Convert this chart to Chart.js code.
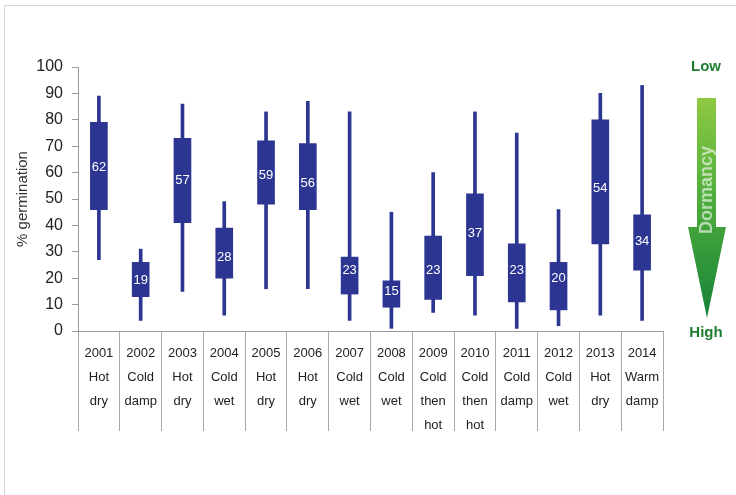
<!DOCTYPE html>
<html>
<head>
<meta charset="utf-8">
<script src="https://cdn.jsdelivr.net/npm/chart.js@4.4.1/dist/chart.umd.min.js"></script>
<style>
    html, body { margin: 0; padding: 0; background: #fff; }
    #wrap { position: relative; width: 736px; height: 495px; overflow: hidden; }
    #frame { position: absolute; left: 4px; top: 5px; width: 800px; height: 600px; border: 1px solid #d4d4d4; }
    #myChart { position: absolute; left: 0; top: 0; }
</style>
</head>
<body>
<div id="wrap">
    <div id="frame"></div>
    <canvas id="myChart" width="736" height="495"></canvas>
</div>
<script>
"use strict";

//DATI
const years = ["2001", "2002", "2003", "2004", "2005", "2006", "2007", "2008", "2009", "2010", "2011", "2012", "2013", "2014"];
const weather1 = ["Hot", "Cold", "Hot", "Cold", "Hot", "Hot", "Cold", "Cold", "Cold", "Cold", "Cold", "Cold", "Hot", "Warm"];
const weather2 = ["dry", "damp", "dry", "wet", "dry", "dry", "wet", "wet", "then", "then", "damp", "wet", "dry", "damp"];
const weather3 = ["", "", "", "", "", "", "", "", "hot", "hot", "", "", "", ""];
const minValues = [27, 4, 15, 6, 16, 16, 4, 1, 7, 6, 1, 2, 6, 4];
const boxLow = [46, 13, 41, 20, 48, 46, 14, 9, 12, 21, 11, 8, 33, 23];
const boxHigh = [79, 26, 73, 39, 72, 71, 28, 19, 36, 52, 33, 26, 80, 44];
const maxValues = [89, 31, 86, 49, 83, 87, 83, 45, 60, 83, 75, 46, 90, 93];
const medians = [62, 19, 57, 28, 59, 56, 23, 15, 23, 37, 23, 20, 54, 34];
const yTicks = [0, 10, 20, 30, 40, 50, 60, 70, 80, 90, 100];

const blue = "#2c3592";
const font = "'Liberation Sans', Arial, sans-serif";

let labels = [];
let boxes = [];
let whiskers = [];
for (let i = 0; i < years.length; i++) {
    let l = [years[i], weather1[i], weather2[i]];
    if (weather3[i] != "")
        l.push(weather3[i]);
    labels.push(l);
    boxes.push([boxLow[i], boxHigh[i]]);
    whiskers.push([minValues[i], maxValues[i]]);
}

//ETICHETTE MEDIANE
const medianLabels = {
    id: "medianLabels",
    afterDatasetsDraw(chart) {
        let ctx = chart.ctx;
        let meta = chart.getDatasetMeta(0);
        let y = chart.scales.y;
        ctx.save();
        ctx.fillStyle = "#fff";
        ctx.font = "13px " + font;
        ctx.textAlign = "center";
        ctx.textBaseline = "middle";
        for (let i = 0; i < medians.length; i++) {
            ctx.fillText(String(medians[i]), meta.data[i].x, y.getPixelForValue(medians[i]));
        }
        ctx.restore();
    }
};

//FRECCIA DORMANCY
const dormancyArrow = {
    id: "dormancyArrow",
    afterDraw(chart) {
        let ctx = chart.ctx;
        let cx = 706;
        ctx.save();
        let grad = ctx.createLinearGradient(0, 98, 0, 318);
        grad.addColorStop(0, "#8fc943");
        grad.addColorStop(0.45, "#4fae3c");
        grad.addColorStop(1, "#17823a");
        ctx.fillStyle = grad;
        ctx.beginPath();
        ctx.moveTo(697, 98);
        ctx.lineTo(716, 98);
        ctx.lineTo(716, 227);
        ctx.lineTo(726, 227);
        ctx.lineTo(cx + 1, 318);
        ctx.lineTo(688, 227);
        ctx.lineTo(697, 227);
        ctx.closePath();
        ctx.fill();

        ctx.translate(cx + 1, 190);
        ctx.rotate(-Math.PI / 2);
        ctx.fillStyle = "rgba(255,255,255,0.6)";
        ctx.font = "bold 18px " + font;
        ctx.textAlign = "center";
        ctx.textBaseline = "middle";
        ctx.fillText("Dormancy", 0, 0);
        ctx.restore();

        ctx.save();
        ctx.fillStyle = "#1f7d33";
        ctx.font = "bold 15px " + font;
        ctx.textAlign = "center";
        ctx.textBaseline = "middle";
        ctx.fillText("Low", cx, 67);
        ctx.fillText("High", cx, 333);
        ctx.restore();
    }
};

//GRAFICO
let myChart = new Chart(document.getElementById("myChart"), {
    type: "bar",
    data: {
        labels: labels,
        datasets: [
            {
                label: "box",
                data: boxes,
                backgroundColor: blue,
                barThickness: 17,
                grouped: false
            },
            {
                label: "range",
                data: whiskers,
                backgroundColor: blue,
                barThickness: 3,
                grouped: false
            }
        ]
    },
    options: {
        responsive: false,
        animation: false,
        layout: { padding: { left: 0, right: 73, top: 67, bottom: 0 } },
        plugins: {
            legend: { display: false },
            tooltip: { enabled: false }
        },
        scales: {
            x: {
                offset: true,
                afterFit: function (scale) { scale.height = 164; },
                border: { color: "#999" },
                grid: {
                    offset: true,
                    drawOnChartArea: false,
                    tickLength: 100,
                    color: "#aaa"
                },
                ticks: {
                    color: "#222",
                    padding: -90,
                    maxRotation: 0,
                    autoSkip: false,
                    font: { family: font, size: 13, lineHeight: "24px" }
                }
            },
            y: {
                min: 0,
                max: 100,
                afterFit: function (scale) { scale.width = 78; },
                afterBuildTicks: function (scale) {
                    scale.ticks = yTicks.map(function (v) { return { value: v }; });
                },
                border: { color: "#999" },
                grid: {
                    drawOnChartArea: false,
                    tickLength: 6,
                    color: "#999"
                },
                ticks: {
                    color: "#222",
                    padding: 9,
                    font: { family: font, size: 16 }
                },
                title: {
                    display: true,
                    text: "% germination",
                    color: "#333",
                    padding: { top: 14, bottom: 0 },
                    font: { family: font, size: 15 }
                }
            }
        }
    },
    plugins: [medianLabels, dormancyArrow]
});
</script>
</body>
</html>
